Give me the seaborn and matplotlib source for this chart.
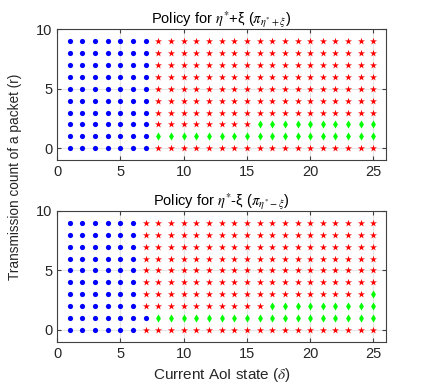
import numpy as np
import pandas as pd
import matplotlib
matplotlib.use('Agg')
import matplotlib.pyplot as plt
import seaborn as sns

# AoI states and transmission counts
delta = list(range(1, 26))
r_vals = list(range(0, 10))

# policy for eta*+xi : per transmission count r, last delta in blue region,
# and the delta range that is green (None = no green)
top_blue_last = [7, 7, 7, 7, 7, 7, 7, 7, 7, 7]
top_green = [None, (8, 25), (16, 25), None, None, None, None, None, None, None]

# policy for eta*-xi
bot_blue_last = [6, 7, 6, 6, 6, 6, 6, 6, 6, 6]
bot_green = [None, (8, 25), (17, 25), (25, 25), None, None, None, None, None, None]

titles = [r'Policy for $\eta^{*}$+ξ ($\pi_{\eta^{*}+\xi}$)',
          r'Policy for $\eta^{*}$-ξ ($\pi_{\eta^{*}-\xi}$)']


def build(blue_last, green):
    rows = []
    for r in r_vals:
        for d in delta:
            if d <= blue_last[r]:
                a = 'blue'
            elif green[r] is not None and green[r][0] <= d <= green[r][1]:
                a = 'green'
            else:
                a = 'red'
            rows.append((d, r, a))
    return pd.DataFrame(rows, columns=['delta', 'r', 'action'])


sns.set_style('ticks')
plt.rcParams['font.family'] = ['Liberation Sans', 'DejaVu Sans']
plt.rcParams['mathtext.fontset'] = 'stix'

fig = plt.figure(figsize=(4.29, 3.85), dpi=100)
ax1 = fig.add_axes([0.133, 0.584, 0.767, 0.340])
ax2 = fig.add_axes([0.133, 0.112, 0.767, 0.340])

palette = {'blue': '#0000ff', 'red': '#ff0000', 'green': '#00ff00'}
markers = {'blue': 'o', 'red': '*', 'green': 'd'}
sizes = {'blue': 14, 'red': 28, 'green': 17}

for ax, df, title in [(ax1, build(top_blue_last, top_green), titles[0]),
                      (ax2, build(bot_blue_last, bot_green), titles[1])]:
    for act in ['blue', 'red', 'green']:
        sub = df[df['action'] == act]
        sns.scatterplot(data=sub, x='delta', y='r', ax=ax, color=palette[act],
                        marker=markers[act], s=sizes[act], linewidth=0,
                        legend=False, zorder=3)
    ax.set_xlim(0, 26)
    ax.set_ylim(-1, 10)
    ax.set_xticks([0, 5, 10, 15, 20, 25])
    ax.set_yticks([0, 5, 10])
    ax.grid(True, color='#e6e6e6', linewidth=0.8)
    ax.tick_params(direction='in', top=True, right=True, length=3,
                   labelsize=10.5, color='#404040', labelcolor='#262626')
    for sp in ax.spines.values():
        sp.set_color('#404040')
        sp.set_linewidth(0.8)
    ax.set_xlabel('')
    ax.set_ylabel('')
    ax.set_title(title, fontsize=10.5, pad=4, color='#000000')

ax2.set_xlabel(r'Current AoI state ($\delta$)', fontsize=11, color='#262626')
fig.text(0.035, 0.54, 'Transmission count of a packet (r)', rotation=90,
         ha='center', va='center', fontsize=9.8, color='#262626')

fig.savefig('out.png', dpi=100)
